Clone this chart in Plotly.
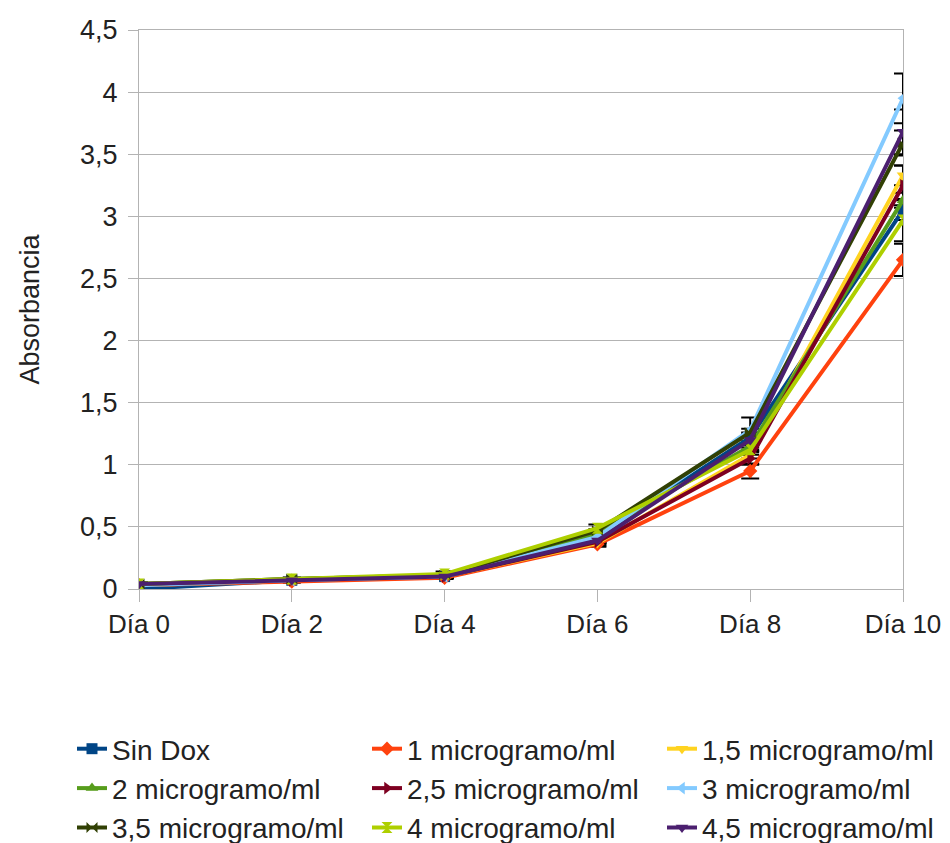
import plotly.graph_objects as go

days = ["Día 0", "Día 2", "Día 4", "Día 6", "Día 8", "Día 10"]

names = ["Sin Dox", "1 microgramo/ml", "1,5 microgramo/ml",
         "2 microgramo/ml", "2,5 microgramo/ml", "3 microgramo/ml",
         "3,5 microgramo/ml", "4 microgramo/ml", "4,5 microgramo/ml"]

sin_dox = [0.00, 0.07, 0.10, 0.42, 1.22, 3.05]
m1_0 = [0.03, 0.06, 0.09, 0.36, 0.95, 2.65]
m1_5 = [0.03, 0.07, 0.10, 0.37, 1.08, 3.33]
m2_0 = [0.04, 0.08, 0.11, 0.45, 1.15, 3.13]
m2_5 = [0.03, 0.07, 0.10, 0.38, 1.05, 3.25]
m3_0 = [0.03, 0.07, 0.10, 0.42, 1.28, 3.95]
m3_5 = [0.04, 0.08, 0.11, 0.47, 1.26, 3.59]
m4_0 = [0.04, 0.08, 0.12, 0.49, 1.12, 2.97]
m4_5 = [0.04, 0.07, 0.10, 0.39, 1.20, 3.68]

e_sin_dox = [0.01, 0.01, 0.01, 0.01, 0.03, 0.08]
e_m1_0 = [0.01, 0.01, 0.01, 0.01, 0.06, 0.13]
e_m1_5 = [0.01, 0.01, 0.01, 0.01, 0.03, 0.08]
e_m2_0 = [0.01, 0.01, 0.01, 0.01, 0.03, 0.06]
e_m2_5 = [0.01, 0.01, 0.01, 0.04, 0.05, 0.16]
e_m3_0 = [0.01, 0.01, 0.01, 0.02, 0.10, 0.20]
e_m3_5 = [0.01, 0.01, 0.01, 0.01, 0.03, 0.10]
e_m4_0 = [0.01, 0.01, 0.02, 0.03, 0.04, 0.17]
e_m4_5 = [0.01, 0.01, 0.01, 0.02, 0.06, 0.18]

series = [sin_dox, m1_0, m1_5, m2_0, m2_5, m3_0, m3_5, m4_0, m4_5]
errors = [e_sin_dox, e_m1_0, e_m1_5, e_m2_0, e_m2_5, e_m3_0, e_m3_5, e_m4_0, e_m4_5]

colors = ["#004586", "#ff420e", "#ffd320", "#579d1c", "#7e0021",
          "#83caff", "#314004", "#aecf00", "#4b1f6f"]
symbols = ["square", "diamond", "triangle-down", "triangle-up", "triangle-right",
           "triangle-left", "bowtie", "hourglass", "triangle-down"]

FONT = "Liberation Sans, Arial, sans-serif"
fig = go.Figure()

# error bars first so that the coloured lines sit on top of them
for vals, errs in zip(series, errors):
    fig.add_trace(go.Scatter(
        x=days, y=vals, mode="markers", showlegend=False, hoverinfo="skip",
        marker=dict(size=1, opacity=0),
        error_y=dict(type="data", array=errs, visible=True,
                     color="#000000", thickness=2, width=9),
    ))

for name, vals, col, sym in zip(names, series, colors, symbols):
    fig.add_trace(go.Scatter(
        x=days, y=vals, name=name, mode="lines+markers",
        line=dict(color=col, width=4),
        marker=dict(color=col, symbol=sym, size=11),
    ))

fig.update_layout(
    width=950, height=843,
    paper_bgcolor="white", plot_bgcolor="white",
    separators=",.",
    font=dict(family=FONT, size=26, color="#222222"),
    margin=dict(l=139, r=47, t=30, b=254, autoexpand=False),
    legend=dict(orientation="h", x=-0.0877, xanchor="left", y=-0.2415, yanchor="top",
                entrywidth=250, font=dict(size=28, color="#222222"),
                traceorder="normal"),
    xaxis=dict(
        type="category", range=[0, 5], showgrid=False,
        showline=True, linecolor="#b3b3b3", linewidth=1, mirror=True,
        ticks="outside", ticklen=12, tickcolor="#b3b3b3",
        tickfont=dict(size=26, color="#222222"),
    ),
    yaxis=dict(
        range=[0, 4.5], dtick=0.5, showgrid=True, gridcolor="#b3b3b3",
        showline=True, linecolor="#b3b3b3", linewidth=1, mirror=True,
        ticks="outside", ticklen=10, tickcolor="#b3b3b3", ticklabelstandoff=5,
        tickfont=dict(size=27, color="#222222"), zeroline=False,
        title=dict(text="Absorbancia", standoff=32,
                   font=dict(size=27, color="#222222")),
    ),
)

fig.write_html(
    "out.html",
    config={"displayModeBar": False},
    post_script="document.body.style.margin='0px';"
                "document.documentElement.style.overflow='hidden';",
)
